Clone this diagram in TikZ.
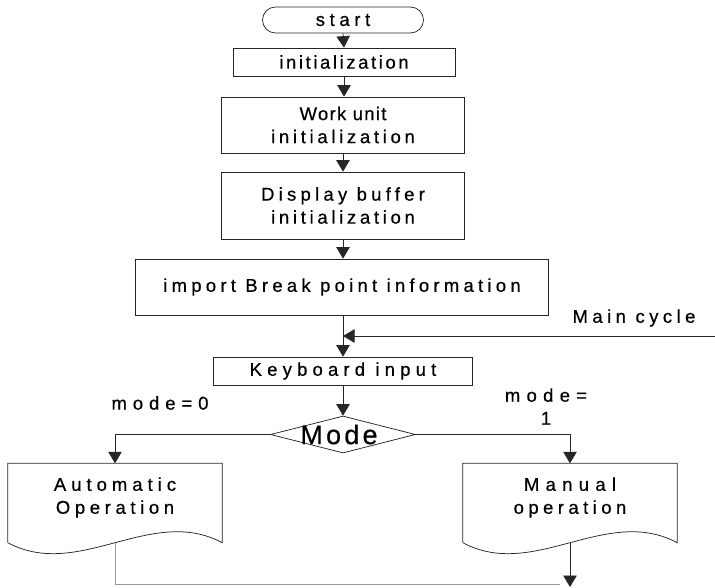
\documentclass[tikz,border=0pt]{standalone}
\usepackage{fontspec}
\setmainfont{Liberation Sans}[FakeBold=0.5]
\usetikzlibrary{arrows.meta,shapes.geometric,shapes.misc}
% letter-spaced text: \lsp{tracking}{text}
\newcommand\lsp[2]{{\addfontfeature{LetterSpace=#1}#2}}

\begin{document}
\begin{tikzpicture}[x=1pt,y=-1pt,
  every node/.style={font=\fontsize{18.5}{23}\selectfont, inner sep=0pt, text=black},
  stroke/.style={draw=black!85, line width=0.75pt},
  flowbox/.style={stroke, rectangle, align=center},
  termbox/.style={stroke, rounded rectangle, minimum width=161pt, minimum height=26pt},
  decision/.style={stroke, diamond, minimum width=145pt, minimum height=37pt, aspect=3.9},
  docarea/.style={minimum width=214pt, minimum height=79pt},
  plain/.style={align=center},
  arr/.style={draw=black!85, line width=0.75pt, -{Triangle[width=13.5pt,length=11.5pt]}},
  loopline/.style={draw=black!40, line width=0.6pt},
]
\useasboundingbox (0,0) rectangle (715,587);

% main column
\node[termbox] (start) at (343,20) {\lsp{25}{start}};
\node[flowbox, minimum width=222pt, minimum height=28pt] (init) at (344,62) {\lsp{14}{initialization}};
\node[flowbox, minimum width=243pt, minimum height=56pt] (work) at (343,125)
  {\lsp{7}{Work unit}\\\lsp{20}{initialization}};
\node[flowbox, minimum width=243pt, minimum height=67pt] (disp) at (343,205.5)
  {\lsp{23}{Display buffer}\\\lsp{20}{initialization}};
\node[flowbox, minimum width=413pt, minimum height=56pt] (imp) at (342,287)
  {\lsp{23}{import Break point information}};
\node[flowbox, minimum width=259pt, minimum height=28pt] (kb) at (343,371)
  {\lsp{28}{Keyboard input}};
\node[decision, label={[font=\fontsize{27}{30}\selectfont, xshift=-4pt]center:\lsp{12}{Mode}}] (mode) at (343,434.5) {};

% document-shaped boxes
\node[docarea] (auto) at (115,503) {};
\node[plain] (autotxt) at (115,497.5) {\lsp{27}{Automatic}\\\lsp{25}{Operation}};
\node[docarea] (man) at (570,503) {};
\node[plain] (mantxt) at (570,497.5) {\lsp{34}{Manual}\\\lsp{24}{operation}};

\foreach \d in {auto,man}{
  \draw[stroke] (\d.south west) -- (\d.north west) -- (\d.north east) -- (\d.south east)
    .. controls +(-71,-38) and +(71,38) .. (\d.south west);
}

% labels
\node[plain] (mczero) at (160,403) {\lsp{32}{mode=0}};
\node[plain] (mcone) at (546,406.5) {\lsp{34}{mode=}\\1};
\node[plain] (mctext) at (634,318) {\lsp{24}{Main cycle}};

% free ends
\coordinate (mcin) at (715,336);
\coordinate (bottom) at (570,587);
\coordinate (loopend) at (560,584);

% connectors
\draw[arr] (start.south) -- (init.north);
\draw[arr] (init.south) -- (init.south |- work.north);
\draw[arr] (work.south) -- (disp.north);
\draw[arr] (disp.south) -- (disp.south |- imp.north);
\draw[arr] (imp.south -| kb.north) -- (kb.north);
\draw[arr] (mcin) -- (mcin -| kb.north);
\draw[arr] (kb.south) -- (mode.north);
\draw[arr] (mode.west) -| (auto.north);
\draw[arr] (mode.east) -| (man.north);
\draw[arr] (man.south) -- (bottom);
\draw[loopline] (auto.south) -- (auto.south |- loopend) -- (loopend);
\end{tikzpicture}
\end{document}
